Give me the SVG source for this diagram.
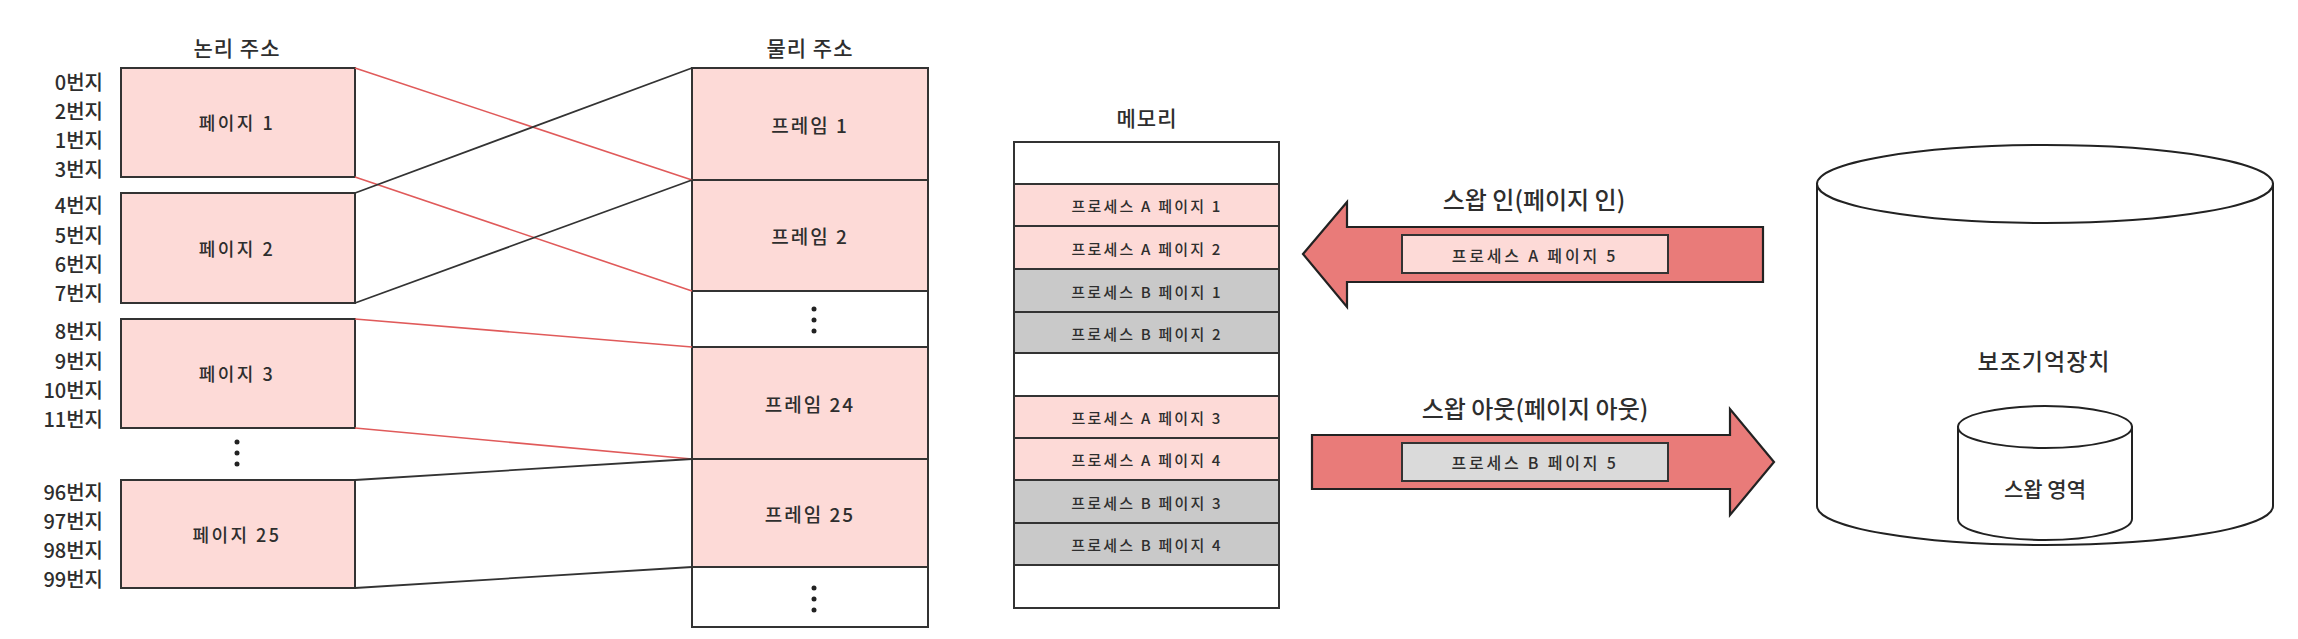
<svg xmlns="http://www.w3.org/2000/svg" width="2298" height="639" viewBox="0 0 2298 639">
  <style>
    text { font-family: "Noto Sans CJK KR", "Noto Sans", sans-serif; fill: #2e2e2e; text-anchor: middle; dominant-baseline: central; font-weight: 500; }
    .title { font-size: 21px; letter-spacing: 1px; }
    .addr { font-size: 20px; text-anchor: end; }
    .pg { font-size: 18px; letter-spacing: 2.5px; }
    .fr { font-size: 19px; letter-spacing: 2px; }
    .row { font-size: 15px; letter-spacing: 2.2px; }
    .lbl { font-size: 24px; }
    .inner { font-size: 16px; letter-spacing: 2.8px; }
    .box { stroke: #333; stroke-width: 2; }
    .pink { fill: #fddad7; }
    .gray { fill: #c9c9c9; }
    .white { fill: #ffffff; }
    .red { stroke: #e05a5a; stroke-width: 1.6; fill: none; }
    .blk { stroke: #333; stroke-width: 1.8; fill: none; }
    .arrow { fill: #e97b79; stroke: #222; stroke-width: 2.2; stroke-linejoin: miter; }
    .dot { fill: #222; }
    .cyl { fill: #fff; stroke: #222; stroke-width: 2; }
  </style>

  <!-- Logical address -->
  <text class="title" x="237" y="47">논리 주소</text>
  <g id="addr-labels">
    <text class="addr" x="103" y="81">0번지</text>
    <text class="addr" x="103" y="110">2번지</text>
    <text class="addr" x="103" y="139">1번지</text>
    <text class="addr" x="103" y="168">3번지</text>
    <text class="addr" x="103" y="204">4번지</text>
    <text class="addr" x="103" y="234">5번지</text>
    <text class="addr" x="103" y="263">6번지</text>
    <text class="addr" x="103" y="292">7번지</text>
    <text class="addr" x="103" y="330">8번지</text>
    <text class="addr" x="103" y="360">9번지</text>
    <text class="addr" x="103" y="389">10번지</text>
    <text class="addr" x="103" y="418">11번지</text>
    <text class="addr" x="103" y="491">96번지</text>
    <text class="addr" x="103" y="520">97번지</text>
    <text class="addr" x="103" y="549">98번지</text>
    <text class="addr" x="103" y="578">99번지</text>
  </g>
  <g id="page1"><rect class="box pink" x="121" y="68" width="234" height="109"/><text class="pg" x="237" y="122">페이지 1</text></g>
  <g id="page2"><rect class="box pink" x="121" y="193" width="234" height="110"/><text class="pg" x="237" y="248">페이지 2</text></g>
  <g id="page3"><rect class="box pink" x="121" y="319" width="234" height="109"/><text class="pg" x="237" y="373">페이지 3</text></g>
  <g id="page-dots"><circle class="dot" cx="237" cy="442" r="2.5"/><circle class="dot" cx="237" cy="453" r="2.5"/><circle class="dot" cx="237" cy="464" r="2.5"/></g>
  <g id="page25"><rect class="box pink" x="121" y="480" width="234" height="108"/><text class="pg" x="237" y="534">페이지 25</text></g>

  <!-- Physical address -->
  <text class="title" x="810" y="47">물리 주소</text>
  <g id="physical">
    <rect class="box white" x="692" y="68" width="236" height="559"/>
    <g id="frame1"><rect class="box pink" x="692" y="68" width="236" height="112"/><text class="fr" x="810" y="124">프레임 1</text></g>
    <g id="frame2"><rect class="box pink" x="692" y="180" width="236" height="111"/><text class="fr" x="810" y="235">프레임 2</text></g>
    <g id="frame-dots1"><circle class="dot" cx="814" cy="309" r="2.5"/><circle class="dot" cx="814" cy="320" r="2.5"/><circle class="dot" cx="814" cy="331" r="2.5"/></g>
    <g id="frame24"><rect class="box pink" x="692" y="347" width="236" height="112"/><text class="fr" x="810" y="403">프레임 24</text></g>
    <g id="frame25"><rect class="box pink" x="692" y="459" width="236" height="108"/><text class="fr" x="810" y="513">프레임 25</text></g>
    <g id="frame-dots2"><circle class="dot" cx="814" cy="588" r="2.5"/><circle class="dot" cx="814" cy="599" r="2.5"/><circle class="dot" cx="814" cy="610" r="2.5"/></g>
  </g>

  <g id="connectors">
    <line class="red" x1="355" y1="68" x2="692" y2="180"/>
    <line class="red" x1="355" y1="177" x2="692" y2="291"/>
    <line class="blk" x1="355" y1="193" x2="692" y2="68"/>
    <line class="blk" x1="355" y1="303" x2="692" y2="180"/>
    <line class="red" x1="355" y1="319" x2="692" y2="347"/>
    <line class="red" x1="355" y1="428" x2="692" y2="459"/>
    <line class="blk" x1="355" y1="480" x2="692" y2="459"/>
    <line class="blk" x1="355" y1="588" x2="692" y2="567"/>
  </g>

  <!-- Memory -->
  <text class="title" x="1147" y="117">메모리</text>
  <g id="memory">
    <rect class="box white" x="1014" y="142" width="265" height="466"/>
    <g id="mem-a1"><rect class="box pink" x="1014" y="184" width="265" height="42"/><text class="row" x="1147" y="205">프로세스 A 페이지 1</text></g>
    <g id="mem-a2"><rect class="box pink" x="1014" y="226" width="265" height="43"/><text class="row" x="1147" y="248">프로세스 A 페이지 2</text></g>
    <g id="mem-b1"><rect class="box gray" x="1014" y="269" width="265" height="43"/><text class="row" x="1147" y="291">프로세스 B 페이지 1</text></g>
    <g id="mem-b2"><rect class="box gray" x="1014" y="312" width="265" height="41"/><text class="row" x="1147" y="333">프로세스 B 페이지 2</text></g>
    <g id="mem-a3"><rect class="box pink" x="1014" y="396" width="265" height="42"/><text class="row" x="1147" y="417">프로세스 A 페이지 3</text></g>
    <g id="mem-a4"><rect class="box pink" x="1014" y="438" width="265" height="42"/><text class="row" x="1147" y="459">프로세스 A 페이지 4</text></g>
    <g id="mem-b3"><rect class="box gray" x="1014" y="480" width="265" height="43"/><text class="row" x="1147" y="502">프로세스 B 페이지 3</text></g>
    <g id="mem-b4"><rect class="box gray" x="1014" y="523" width="265" height="42"/><text class="row" x="1147" y="544">프로세스 B 페이지 4</text></g>
  </g>

  <!-- Swap in -->
  <g id="swap-in">
    <text class="lbl" x="1534" y="198">스왑 인(페이지 인)</text>
    <polygon class="arrow" points="1303,254 1347,202 1347,227 1763,227 1763,282 1347,282 1347,307"/>
    <rect class="box pink" x="1402" y="235" width="266" height="38"/>
    <text class="inner" x="1535" y="255">프로세스 A 페이지 5</text>
  </g>

  <!-- Swap out -->
  <g id="swap-out">
    <text class="lbl" x="1535" y="407">스왑 아웃(페이지 아웃)</text>
    <polygon class="arrow" points="1312,435 1730,435 1730,409 1774,462 1730,515 1730,489 1312,489"/>
    <rect class="box" fill="#dadada" x="1402" y="443" width="266" height="38"/>
    <text class="inner" x="1535" y="462">프로세스 B 페이지 5</text>
  </g>

  <!-- Secondary storage -->
  <g id="storage">
    <path class="cyl" d="M1817,184 L1817,506 A228,39 0 0 0 2273,506 L2273,184 Z"/>
    <ellipse class="cyl" cx="2045" cy="184" rx="228" ry="39"/>
    <text class="lbl" x="2044" y="360" style="font-size:23px;letter-spacing:1px">보조기억장치</text>
  </g>
  <g id="swap-area">
    <path class="cyl" d="M1958,427 L1958,519 A87,21 0 0 0 2132,519 L2132,427 Z"/>
    <ellipse class="cyl" cx="2045" cy="427" rx="87" ry="21"/>
    <text class="lbl" x="2045" y="488" style="font-size:21px">스왑 영역</text>
  </g>
</svg>
